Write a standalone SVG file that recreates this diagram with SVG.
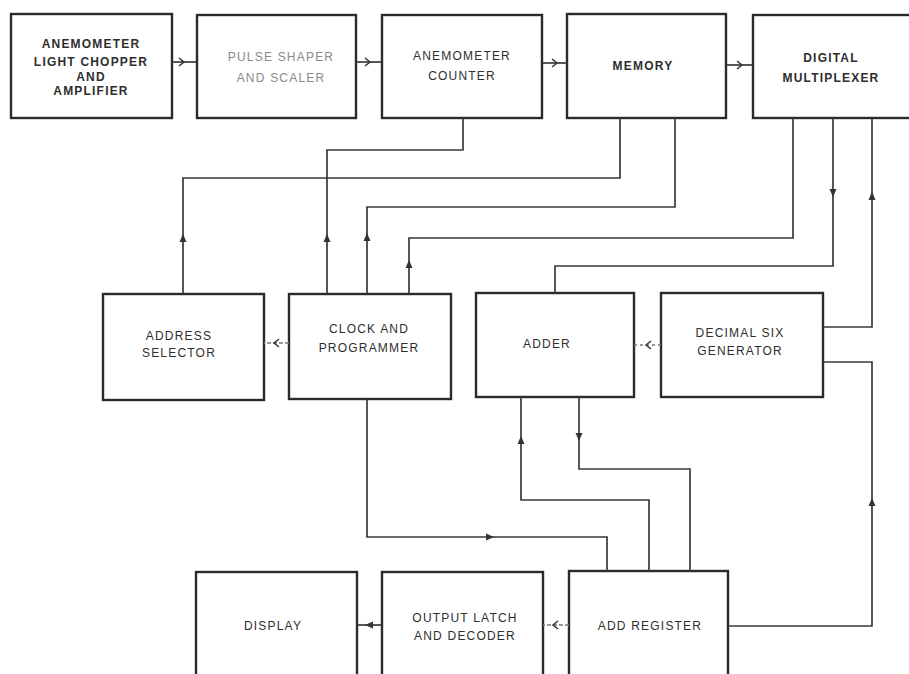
<svg xmlns="http://www.w3.org/2000/svg" width="909" height="674" viewBox="0 0 909 674">
<style>
.box{fill:none;stroke:#2b2b2b;stroke-width:2.4}
.ln{fill:none;stroke:#3a3a3a;stroke-width:1.7}
.fl{fill:none;stroke:#777;stroke-width:1.5}
.ah{fill:#333}
.ch{fill:none;stroke:#333;stroke-width:1.5}
text{font-family:"Liberation Sans",Arial,sans-serif;font-size:12px;fill:#2e2e2e;text-anchor:middle;letter-spacing:1.2px}
.b{font-weight:bold}
.lt{fill:#8a8a8a}
</style>
<defs>
<path id="tri" d="M4,0 L-4,-3.5 L-4,3.5 Z"/>
<path id="chev" d="M-3,-4 L2,0 L-3,4"/>
</defs>
<rect width="909" height="674" fill="#fff"/>

<g id="anemometer_light_chopper">
<rect class="box" x="11" y="14" width="161" height="104"/>
<text class="b" x="91" y="47.5">ANEMOMETER</text>
<text class="b" x="91" y="65.5">LIGHT CHOPPER</text>
<text class="b" x="91" y="80.5">AND</text>
<text class="b" x="91" y="94.5">AMPLIFIER</text>
</g>
<g id="pulse_shaper">
<rect class="box" x="197" y="15" width="159" height="103"/>
<text class="lt" x="281" y="60.5">PULSE SHAPER</text>
<text class="lt" x="281" y="81.5">AND  SCALER</text>
</g>
<g id="anemometer_counter">
<rect class="box" x="382" y="15" width="160" height="103"/>
<text x="462" y="59.5">ANEMOMETER</text>
<text x="462" y="79.5">COUNTER</text>
</g>
<g id="memory">
<rect class="box" x="567" y="14" width="159" height="104"/>
<text class="b" x="643" y="69.5">MEMORY</text>
</g>
<g id="digital_multiplexer">
<rect class="box" x="753" y="15" width="170" height="103"/>
<text class="b" x="831" y="61.5">DIGITAL</text>
<text class="b" x="831" y="81.5">MULTIPLEXER</text>
</g>

<g id="address_selector">
<rect class="box" x="103" y="294" width="161" height="106"/>
<text x="179" y="339.5">ADDRESS</text>
<text x="179" y="356.5">SELECTOR</text>
</g>
<g id="clock_programmer">
<rect class="box" x="289" y="294" width="162" height="105"/>
<text x="369" y="332.5">CLOCK AND</text>
<text x="369" y="351.5">PROGRAMMER</text>
</g>
<g id="adder">
<rect class="box" x="476" y="293" width="158" height="104"/>
<text x="547" y="347.5">ADDER</text>
</g>
<g id="decimal_six_generator">
<rect class="box" x="661" y="293" width="162" height="104"/>
<text x="740" y="336.5">DECIMAL SIX</text>
<text x="740" y="354.5">GENERATOR</text>
</g>

<g id="display">
<rect class="box" x="196" y="572" width="161" height="110"/>
<text x="273" y="629.5">DISPLAY</text>
</g>
<g id="output_latch">
<rect class="box" x="382" y="572" width="161" height="110"/>
<text x="465" y="621.5">OUTPUT LATCH</text>
<text x="465" y="639.5">AND  DECODER</text>
</g>
<g id="add_register">
<rect class="box" x="569" y="571" width="159" height="111"/>
<text x="650" y="629.5">ADD REGISTER</text>
</g>

<g id="connectors">
<path class="ln" d="M172,62 H197"/>
<use href="#chev" class="ch" transform="translate(182,62)"/>
<path class="ln" d="M356,62 H382"/>
<use href="#chev" class="ch" transform="translate(368,62)"/>
<path class="ln" d="M542,63 H567"/>
<use href="#chev" class="ch" transform="translate(555,63)"/>
<path class="ln" d="M726,65 H753"/>
<use href="#chev" class="ch" transform="translate(740,65)"/>

<path class="fl" d="M289,343 H264" stroke-dasharray="4 2"/>
<use href="#chev" class="ch" transform="translate(276,343) rotate(180)"/>
<path class="fl" d="M661,345 H634" stroke-dasharray="3 3"/>
<use href="#chev" class="ch" transform="translate(648,345) rotate(180)"/>
<path class="ln" d="M382,625 H357"/>
<use href="#tri" class="ah" transform="translate(369,625) rotate(180)"/>
<path class="fl" d="M569,625 H543" stroke-dasharray="4 2"/>
<use href="#chev" class="ch" transform="translate(555,625) rotate(180)"/>

<path class="ln" d="M463,118 V150 H327 V294"/>
<use href="#tri" class="ah" transform="translate(327,238) rotate(-90)"/>
<path class="ln" d="M620,118 V178 H183 V294"/>
<use href="#tri" class="ah" transform="translate(183,238) rotate(-90)"/>
<path class="ln" d="M675,118 V207 H367 V294"/>
<use href="#tri" class="ah" transform="translate(367,237) rotate(-90)"/>
<path class="ln" d="M793,118 V238 H409 V294"/>
<use href="#tri" class="ah" transform="translate(409,264) rotate(-90)"/>
<path class="ln" d="M833,118 V266 H555 V293"/>
<use href="#tri" class="ah" transform="translate(833,193) rotate(90)"/>
<path class="ln" d="M823,327 H872 V118"/>
<use href="#tri" class="ah" transform="translate(872,196) rotate(-90)"/>
<path class="ln" d="M728,626 H872 V362 H823"/>
<use href="#tri" class="ah" transform="translate(872,502) rotate(-90)"/>
<path class="ln" d="M367,399 V537 H607 V571"/>
<use href="#tri" class="ah" transform="translate(490,537)"/>
<path class="ln" d="M521,397 V500 H649 V571"/>
<use href="#tri" class="ah" transform="translate(521,440) rotate(-90)"/>
<path class="ln" d="M579,397 V469 H690 V571"/>
<use href="#tri" class="ah" transform="translate(579,437) rotate(90)"/>
</g>
</svg>
